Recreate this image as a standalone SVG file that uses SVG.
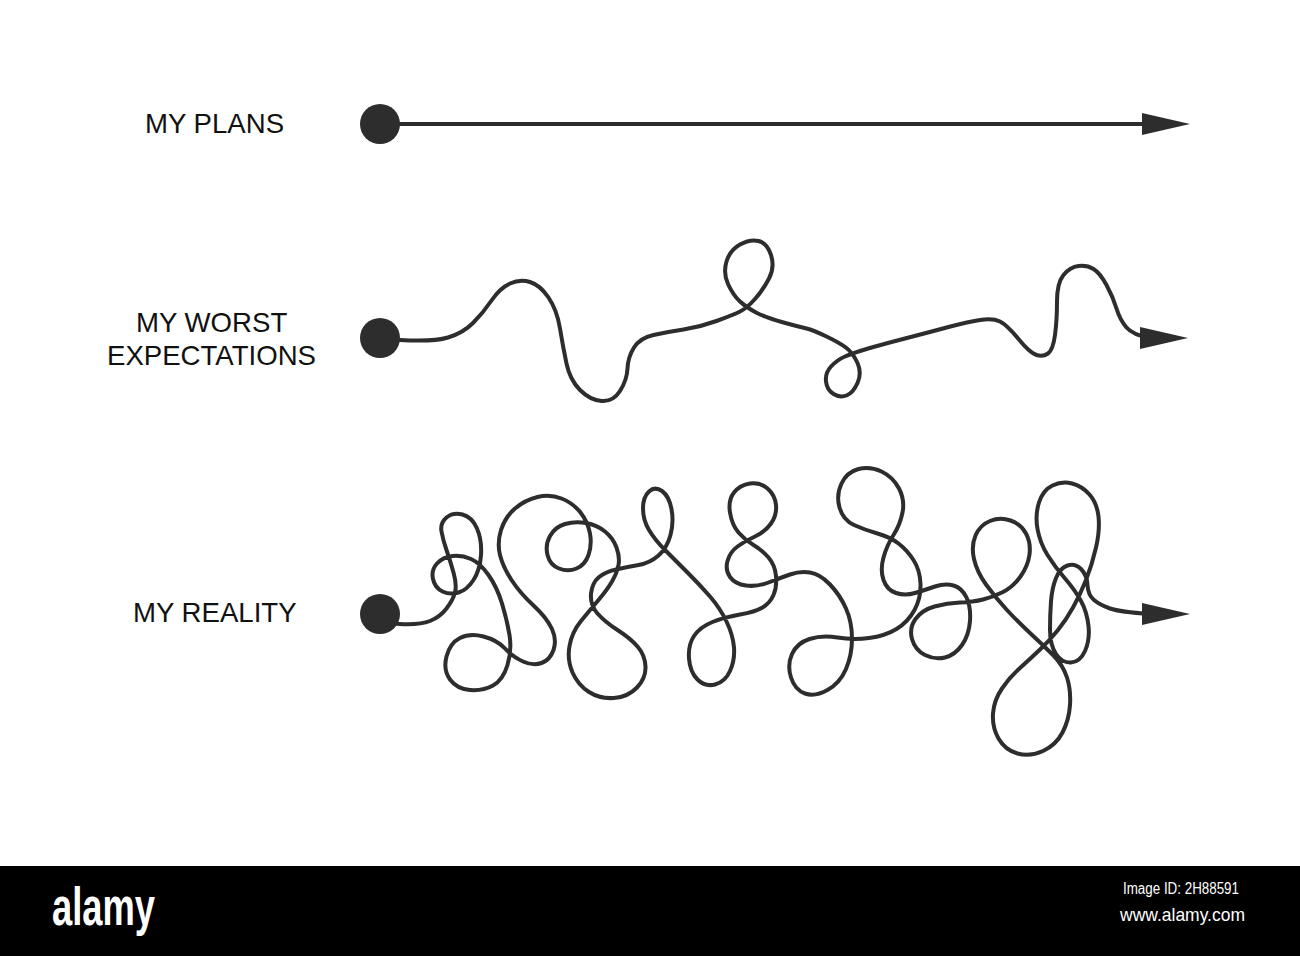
<svg xmlns="http://www.w3.org/2000/svg" width="1300" height="956" viewBox="0 0 1300 956">
<style>
.lbl{font-family:"Liberation Sans",Arial,sans-serif;font-size:27.6px;fill:#111;}
.line{fill:none;stroke:#2d2d2d;stroke-width:4;stroke-linecap:round;stroke-linejoin:round;}
.dot{fill:#2d2d2d;}
.head{fill:#2d2d2d;}
.wm{font-family:"Liberation Sans Narrow","Liberation Sans",Arial,sans-serif;fill:#fff;}
</style>
<defs>
<path id="ah" d="M-48,-11 L0,0 L-48,11 Z"/>
</defs>
<rect width="1300" height="956" fill="#fff"/>

<g id="plans">
<text class="lbl" x="145" y="133">MY PLANS</text>
<circle class="dot" cx="380" cy="124" r="20"/>
</g>
<g id="worst">
<text class="lbl" x="136" y="332">MY WORST</text>
<text class="lbl" x="107" y="365">EXPECTATIONS</text>
<circle class="dot" cx="380" cy="338" r="20"/>
</g>
<g id="reality">
<text class="lbl" x="133" y="622">MY REALITY</text>
<circle class="dot" cx="380" cy="614" r="20"/>
</g>

<g id="connectors">
<path class="line" d="M380,124 L1150,124"/>
<use href="#ah" class="head" x="1190" y="124"/>

<path class="line" d="M380,338 Q395,340 400,340 Q433,342 448,337.5 Q463,333 473,323 Q483,313 491.5,300.5 Q500,288 510,283.5 Q520,279 530,282 Q540,285 548.5,297.5 Q557,310 560,328.5 Q563,347 566.5,363.5 Q570,380 580,390 Q590,400 601.5,401 Q613,402 620,391 Q627,380 627.5,368.5 Q628,357 634,347.5 Q640,338 653.5,335 Q667,332 683.5,329.5 Q700,327 716.5,321 Q733,315 740,311.5 Q747,308 755,299 Q763,290 769,278.5 Q775,267 771,255 Q767,243 758.5,241 Q750,239 740,244.5 Q730,250 726.5,261.5 Q723,273 728,284 Q733,295 740,301.5 Q747,308 757,313 Q767,318 783.5,322.5 Q800,327 806.5,328.5 Q813,330 826.5,336.5 Q840,343 846.5,348 Q853,353 857.5,363 Q862,373 857.5,383 Q853,393 846.5,395.5 Q840,398 833.5,394 Q827,390 826,381.5 Q825,373 831,366.5 Q837,360 845,356.5 Q853,353 866.5,349 Q880,345 905,338.5 Q930,332 948.5,327 Q967,322 980,320 Q993,318 1000,321.5 Q1007,325 1018.5,339 Q1030,353 1036.5,355 Q1043,357 1048,353.5 Q1053,350 1055,335 Q1057,320 1057,301.5 Q1057,283 1063.5,275 Q1070,267 1078.5,266 Q1087,265 1093.5,269 Q1100,273 1106.5,285 Q1113,297 1116.5,308.5 Q1120,320 1126.5,327.5 Q1133,335 1150,338"/>
<use href="#ah" class="head" x="1188" y="338"/>

<path class="line" d="M380,620 Q395,624 400,624 Q420,625 430,621 Q440,617 446.5,608.5 Q453,600 455,592.5 Q457,585 453.5,572.5 Q450,560 446.5,550 Q443,540 441.5,531.5 Q440,523 446.5,517.5 Q453,512 462.5,514.5 Q472,517 477,528.5 Q482,540 481,555 Q480,570 473.5,580 Q467,590 458.5,592.5 Q450,595 442.5,591.5 Q435,588 433,579 Q431,570 437,563.5 Q443,557 452.5,556 Q462,555 471,559 Q480,563 488.5,575 Q497,587 502,603.5 Q507,620 509.5,635 Q512,650 507.5,665 Q503,680 493,685.5 Q483,691 470,690 Q457,689 450,679.5 Q443,670 446.5,656.5 Q450,643 460,638 Q470,633 483.5,636.5 Q497,640 505,648.5 Q513,657 523,661.5 Q533,666 541.5,663 Q550,660 553.5,650 Q557,640 552,629 Q547,618 533.5,605.5 Q520,593 511.5,580 Q503,567 500,555 Q497,543 501,530 Q505,517 515,508.5 Q525,500 537.5,497 Q550,494 561.5,498.5 Q573,503 580.5,512.5 Q588,522 590,533.5 Q592,545 588.5,555 Q585,565 576.5,568.5 Q568,572 559,568.5 Q550,565 547.5,555 Q545,545 550,536 Q555,527 565,524 Q575,521 586,523 Q597,525 605,531.5 Q613,538 616.5,547.5 Q620,557 618.5,565 Q617,573 612,581.5 Q607,590 598.5,600 Q590,610 581,621 Q572,632 569.5,646 Q567,660 572.5,672.5 Q578,685 589,692 Q600,699 614,698 Q628,697 637,687.5 Q646,678 645.5,666.5 Q645,655 637.5,646.5 Q630,638 617.5,630 Q605,622 597.5,613.5 Q590,605 591,594 Q592,583 598.5,577.5 Q605,572 616,569.5 Q627,567 638.5,565 Q650,563 658.5,555.5 Q667,548 670.5,535 Q674,522 671.5,509 Q669,496 662,491 Q655,486 649,491.5 Q643,497 643,508.5 Q643,520 649,530 Q655,540 665,550 Q675,560 687.5,572.5 Q700,585 710,596.5 Q720,608 726.5,621.5 Q733,635 734,647.5 Q735,660 730,671 Q725,682 715,684.5 Q705,687 697.5,679.5 Q690,672 689,658.5 Q688,645 694,636 Q700,627 712.5,622 Q725,617 740,614.5 Q755,612 762.5,607.5 Q770,603 773.5,595 Q777,587 776,576 Q775,565 768.5,557.5 Q762,550 753.5,545 Q745,540 738.5,532.5 Q732,525 730,512.5 Q728,500 734,492.5 Q740,485 750,483.5 Q760,482 767.5,488.5 Q775,495 776,505 Q777,515 771,523.5 Q765,532 755,536.5 Q745,541 737.5,546.5 Q730,552 727.5,561 Q725,570 730,577 Q735,584 746,585.5 Q757,587 768.5,582.5 Q780,578 790,574.5 Q800,571 810,572.5 Q820,574 830,584.5 Q840,595 846,608.5 Q852,622 852,638.5 Q852,655 846,669 Q840,683 827.5,690 Q815,697 805,693.5 Q795,690 791,677.5 Q787,665 792,654 Q797,643 809.5,639 Q822,635 837.5,637.5 Q853,640 869,638 Q885,636 896.5,629 Q908,622 914.5,610 Q921,598 920.5,584 Q920,570 913.5,560 Q907,550 898.5,543.5 Q890,537 877.5,533.5 Q865,530 854,525 Q843,520 839.5,507.5 Q836,495 841.5,483.5 Q847,472 858.5,469 Q870,466 881.5,471.5 Q893,477 899,488.5 Q905,500 902.5,512.5 Q900,525 893.5,535 Q887,545 883.5,557.5 Q880,570 883.5,580 Q887,590 896,593 Q905,596 915,593 Q925,590 935,586.5 Q945,583 953.5,585.5 Q962,588 966.5,597.5 Q971,607 970,621 Q969,635 962,645 Q955,655 945,657.5 Q935,660 925,655 Q915,650 912,639 Q909,628 915.5,619 Q922,610 934.5,606.5 Q947,603 960,602.5 Q973,602 983,599.5 Q993,597 1003,592 Q1013,587 1020.5,576.5 Q1028,566 1029.5,554.5 Q1031,543 1026,533.5 Q1021,524 1010.5,520.5 Q1000,517 990,521 Q980,525 975.5,535.5 Q971,546 974,559 Q977,572 986,584.5 Q995,597 1006.5,609.5 Q1018,622 1030.5,633.5 Q1043,645 1053,655 Q1063,665 1067,677.5 Q1071,690 1070,705 Q1069,720 1062.5,732.5 Q1056,745 1043,751 Q1030,757 1017.5,753.5 Q1005,750 998.5,738.5 Q992,727 993,713.5 Q994,700 1002,688.5 Q1010,677 1020,668 Q1030,659 1040,649.5 Q1050,640 1058,630 Q1066,620 1073,607.5 Q1080,595 1086,580 Q1092,565 1096,547.5 Q1100,530 1098.5,516.5 Q1097,503 1089.5,494.5 Q1082,486 1072,483.5 Q1062,481 1052.5,485.5 Q1043,490 1039,502.5 Q1035,515 1037.5,529 Q1040,543 1047.5,555 Q1055,567 1065,578.5 Q1075,590 1081,601 Q1087,612 1088.5,626 Q1090,640 1085,651 Q1080,662 1071,662.5 Q1062,663 1056,654 Q1050,645 1050,630 Q1050,615 1051,601.5 Q1052,588 1056,578 Q1060,568 1067.5,565.5 Q1075,563 1081,569 Q1087,575 1087.5,585 Q1088,595 1094,600 Q1100,605 1110,608.5 Q1120,612 1150,614"/>
<use href="#ah" class="head" x="1190" y="614"/>
</g>

<g id="watermark">
<rect x="0" y="866" width="1300" height="90" fill="#000"/>
<text class="wm" x="52" y="925" font-size="54" font-weight="bold" textLength="103" lengthAdjust="spacingAndGlyphs">alamy</text>
<text class="wm" x="1123" y="894" font-size="16" textLength="116" lengthAdjust="spacingAndGlyphs">Image ID: 2H88591</text>
<text class="wm" x="1120" y="921" font-size="19" textLength="125" lengthAdjust="spacingAndGlyphs">www.alamy.com</text>
</g>
</svg>
